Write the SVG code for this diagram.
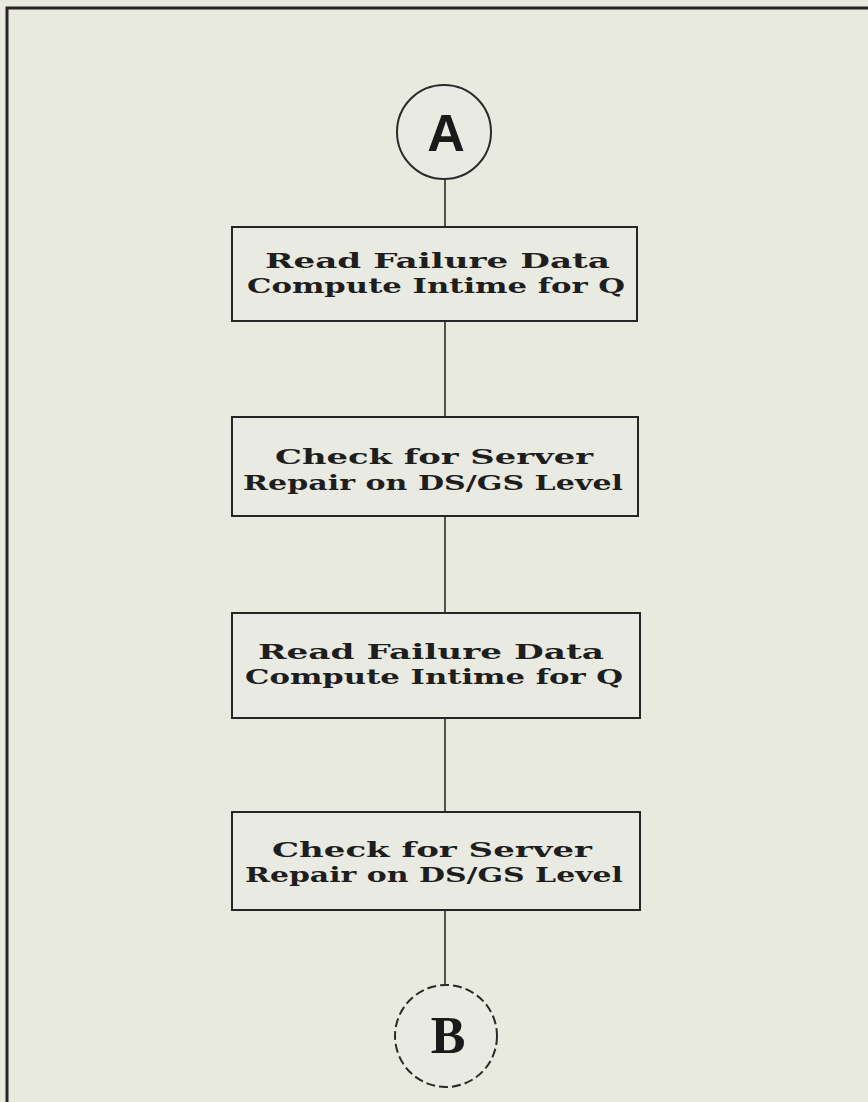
<svg xmlns="http://www.w3.org/2000/svg" width="868" height="1102" viewBox="0 0 868 1102">
<style>
.bg{fill:#e8e9df}
.frame{fill:none;stroke:#2a2426;stroke-width:3}
.box{fill:#e9eae1;stroke:#262626;stroke-width:2}
.conn{stroke:#2a2a2a;stroke-width:1.6;fill:none}
.circ{fill:#e9eae1;stroke:#2a2a2a;stroke-width:2}
.t{font-family:"DejaVu Serif","Liberation Serif",serif;font-size:21px;fill:#1e1e1e;font-weight:bold}
.bigA{font-family:"Liberation Sans","DejaVu Sans",sans-serif;font-size:52px;font-weight:bold;fill:#1a1a1a;text-anchor:middle}
.bigB{font-family:"Liberation Serif","DejaVu Serif",serif;font-size:52px;font-weight:bold;fill:#1a1a1a;text-anchor:middle}
</style>
<rect class="bg" x="0" y="0" width="868" height="1102"/>
<path class="frame" d="M7,1102 V8 H868"/>
<g id="connectors">
<line class="conn" x1="445" y1="180" x2="445" y2="227"/>
<line class="conn" x1="445" y1="321" x2="445" y2="417"/>
<line class="conn" x1="445" y1="516" x2="445" y2="613"/>
<line class="conn" x1="445" y1="718" x2="445" y2="812"/>
<line class="conn" x1="445" y1="910" x2="445" y2="985"/>
</g>
<g id="nodeA">
<circle class="circ" cx="444" cy="132" r="47"/>
<text class="bigA" x="446" y="151">A</text>
</g>
<g id="box1">
<rect class="box" x="232" y="227" width="405" height="94"/>
<text class="t" x="265" y="268" textLength="345" lengthAdjust="spacingAndGlyphs">Read Failure Data</text>
<text class="t" x="247" y="293" textLength="378" lengthAdjust="spacingAndGlyphs">Compute Intime for Q</text>
</g>
<g id="box2">
<rect class="box" x="232" y="417" width="406" height="99"/>
<text class="t" x="275" y="464" textLength="318" lengthAdjust="spacingAndGlyphs">Check for Server</text>
<text class="t" x="243" y="490" textLength="380" lengthAdjust="spacingAndGlyphs">Repair on DS/GS Level</text>
</g>
<g id="box3">
<rect class="box" x="232" y="613" width="408" height="105"/>
<text class="t" x="258" y="659" textLength="346" lengthAdjust="spacingAndGlyphs">Read Failure Data</text>
<text class="t" x="245" y="684" textLength="378" lengthAdjust="spacingAndGlyphs">Compute Intime for Q</text>
</g>
<g id="box4">
<rect class="box" x="232" y="812" width="408" height="98"/>
<text class="t" x="272" y="857" textLength="320" lengthAdjust="spacingAndGlyphs">Check for Server</text>
<text class="t" x="245" y="882" textLength="378" lengthAdjust="spacingAndGlyphs">Repair on DS/GS Level</text>
</g>
<g id="nodeB">
<circle class="circ" cx="446" cy="1036" r="51" stroke-dasharray="9 4"/>
<text class="bigB" x="448" y="1053">B</text>
</g>
</svg>
